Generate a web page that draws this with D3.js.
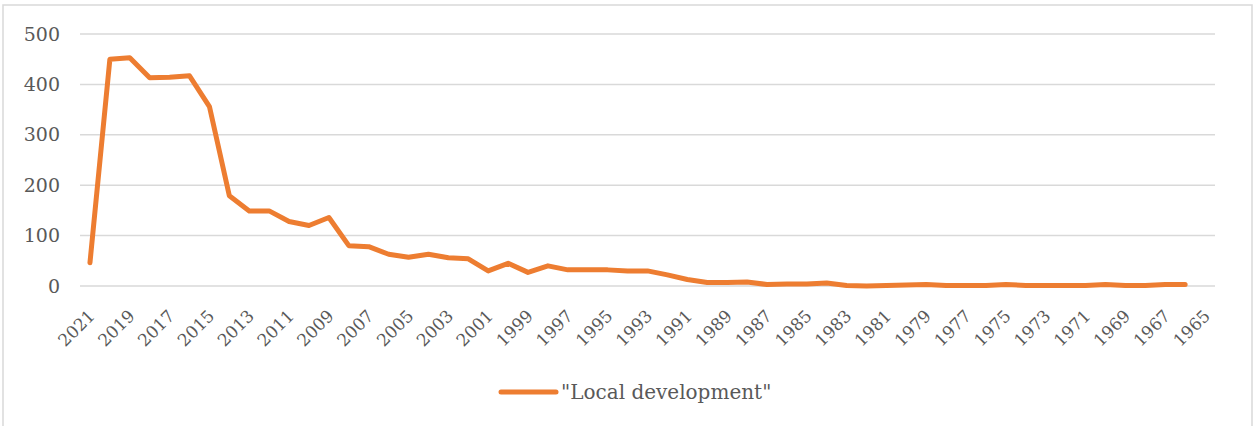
<!DOCTYPE html>
<html>
<head>
<meta charset="utf-8">
<script src="https://cdn.jsdelivr.net/npm/d3@7"></script>
<style>
  body { margin: 0; background: #fff; }
</style>
</head>
<body>
<svg></svg>
<script>
// years shown on the category axis, newest first
var years = d3.range(2021, 1964, -1);
// "Local development" counts per year (1965 has no value)
var counts = [46, 450, 453, 413, 414, 417, 356, 179, 149, 149,
  128, 120, 136, 80, 78, 63, 57, 63, 56, 54,
  30, 45, 27, 40, 32, 32, 32, 30, 30, 22,
  13, 7, 7, 8, 3, 4, 4, 6, 1, 0,
  1, 2, 3, 1, 1, 1, 3, 1, 1, 1,
  1, 3, 1, 1, 3, 3, null];
var yTicks = [0, 100, 200, 300, 400, 500];
var seriesName = "\"Local development\"";

//Liberation Serif did not show up, DejaVu Serif does
var serif = "DejaVu Serif";

var makeTranslateString = function (x, y) {
  return "translate(" + x + "," + y + ")";
};

var initGraph = function () {
  var screen = { width: 1259, height: 426 };
  var margins = { left: 80, right: 44, top: 34, bottom: 140 };
  var graph = {
    width: screen.width - margins.left - margins.right,
    height: screen.height - margins.top - margins.bottom
  };

  var svg = d3.select("svg").attr("width", screen.width).attr("height", screen.height);

  // chart area border
  svg.append("rect")
    .attr("x", 3).attr("y", 5)
    .attr("width", 1249).attr("height", 440)
    .attr("fill", "none")
    .attr("stroke", "#d9d9d9")
    .attr("stroke-width", 1.5);

  var yearScale = d3.scaleBand().domain(years).range([0, graph.width]);
  var countScale = d3.scaleLinear().domain([0, 500]).range([graph.height, 0]);

  var target = svg.append("g")
    .attr("transform", makeTranslateString(margins.left, margins.top));

  // gridlines
  target.append("g")
    .selectAll("line")
    .data(yTicks)
    .enter()
    .append("line")
    .attr("x1", 0)
    .attr("x2", graph.width)
    .attr("y1", function (d) { return countScale(d); })
    .attr("y2", function (d) { return countScale(d); })
    .attr("stroke", "#d9d9d9")
    .attr("stroke-width", 1.5);

  var yAxis = d3.axisLeft(countScale).tickValues(yTicks).tickSize(0).tickPadding(20);
  target.append("g").call(yAxis)
    .attr("font-family", serif)
    .attr("font-size", 19)
    .call(function (g) { g.select(".domain").remove(); })
    .selectAll("text")
    .attr("fill", "#595959");

  var xAxis = d3.axisBottom(yearScale)
    .tickValues(years.filter(function (y) { return (2021 - y) % 2 === 0; }))
    .tickSize(0);
  target.append("g")
    .attr("transform", makeTranslateString(0, graph.height))
    .call(xAxis)
    .attr("font-family", serif)
    .attr("font-size", 17)
    .call(function (g) { g.select(".domain").remove(); })
    .selectAll("text")
    .attr("fill", "#595959")
    .attr("text-anchor", "end")
    .attr("y", 0)
    .attr("dy", "0")
    .attr("transform", "translate(6,31) rotate(-45)");

  var points = years.map(function (y, i) { return { year: y, value: counts[i] }; });

  var line = d3.line()
    .defined(function (d) { return d.value !== null; })
    .x(function (d) { return yearScale(d.year) + yearScale.bandwidth() / 2; })
    .y(function (d) { return countScale(d.value); });

  target.append("path")
    .datum(points)
    .attr("d", line)
    .attr("fill", "none")
    .attr("stroke", "#ed7d31")
    .attr("stroke-width", 5)
    .attr("stroke-linejoin", "round")
    .attr("stroke-linecap", "round");

  // legend
  var legend = svg.append("g").attr("transform", makeTranslateString(501, 392));
  legend.append("line")
    .attr("x1", 0).attr("x2", 55)
    .attr("stroke", "#ed7d31")
    .attr("stroke-width", 5)
    .attr("stroke-linecap", "round");
  legend.append("text")
    .attr("x", 60).attr("y", 7)
    .attr("font-family", serif)
    .attr("font-size", 20)
    .attr("fill", "#595959")
    .text(seriesName);
};

initGraph();
</script>
</body>
</html>
